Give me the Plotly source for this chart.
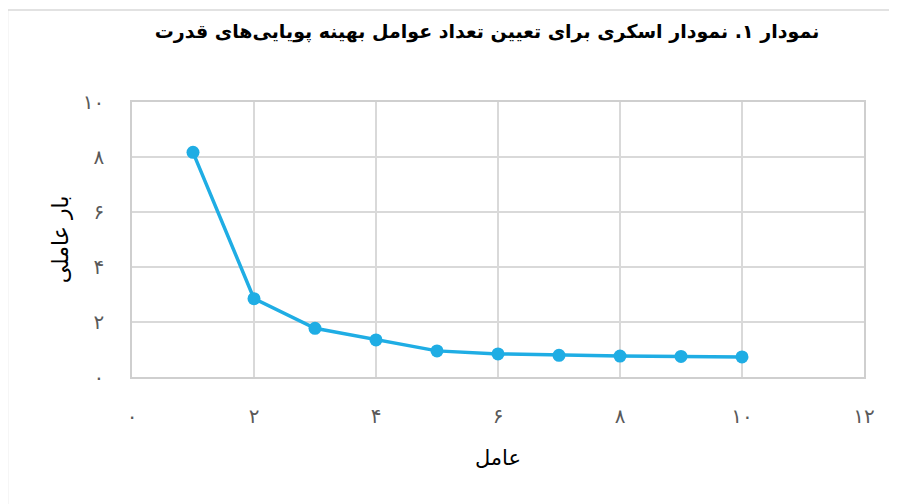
import plotly.graph_objects as go

factors = [1, 2, 3, 4, 5, 6, 7, 8, 9, 10]
loadings = [8.17, 2.85, 1.77, 1.35, 0.95, 0.84, 0.79, 0.76, 0.75, 0.73]

x_tickvals = [0, 2, 4, 6, 8, 10, 12]
x_ticktext = ["۰", "۲", "۴", "۶", "۸", "۱۰", "۱۲"]
y_tickvals = [0, 2, 4, 6, 8, 10]
y_ticktext = ["۰", "۲", "۴", "۶", "۸", "۱۰"]

title_text = "نمودار ۱. نمودار اسکری برای تعیین تعداد عوامل بهینه پویایی‌های قدرت"
x_title = "عامل"
y_title = "بار عاملی"

FONT = "DejaVu Sans"
BLUE = "#1FADE4"
GRID = "#D9D9D9"

# page body has an 8px default margin: compensate in the figure margins
OFF = 8
L, T = 132 - OFF, 102 - OFF
PW, PH = 732, 275

fig = go.Figure()
fig.add_trace(go.Scatter(
    x=factors, y=loadings, mode="lines+markers",
    line=dict(color=BLUE, width=3.5),
    marker=dict(color=BLUE, size=13),
    showlegend=False, hoverinfo="skip",
))

fig.update_layout(
    width=897, height=504,
    margin=dict(l=L, r=897 - L - PW, t=T, b=504 - T - PH),
    paper_bgcolor="white", plot_bgcolor="white",
    font=dict(family=FONT, color="#595959"),
    title=dict(text=title_text, x=(487 - OFF) / 897, xanchor="center",
               y=1 - (31 - OFF) / 504, yanchor="middle",
               font=dict(family=FONT, size=19, color="black", weight="bold")),
    xaxis=dict(
        range=[0, 12], tickvals=x_tickvals, ticktext=x_ticktext,
        showgrid=True, gridcolor=GRID, gridwidth=1.5,
        showline=True, linecolor="#CFCFCF", linewidth=1.5, mirror=True,
        zeroline=False, ticks="", ticklabelstandoff=20,
        tickfont=dict(family=FONT, size=20, color="#595959"),
        title=dict(text=x_title, standoff=24, font=dict(family=FONT, size=21, color="black")),
    ),
    yaxis=dict(
        range=[0, 10], tickvals=y_tickvals, ticktext=y_ticktext,
        showgrid=True, gridcolor=GRID, gridwidth=1.5,
        showline=True, linecolor="#CFCFCF", linewidth=1.5, mirror=True,
        zeroline=False, ticks="", ticklabelstandoff=22,
        tickfont=dict(family=FONT, size=20, color="#595959"),
        title=dict(text=y_title, standoff=8, font=dict(family=FONT, size=22, color="black")),
    ),
    shapes=[dict(
        type="rect", xref="paper", yref="paper",
        x0=(7.5 - 132) / PW, x1=1.5, y0=-1.0, y1=(377 - 10) / PH,
        line=dict(color="#D9D9D9", width=1.5), fillcolor="rgba(0,0,0,0)", layer="below",
    )],
)

fig.write_html("out.html")
